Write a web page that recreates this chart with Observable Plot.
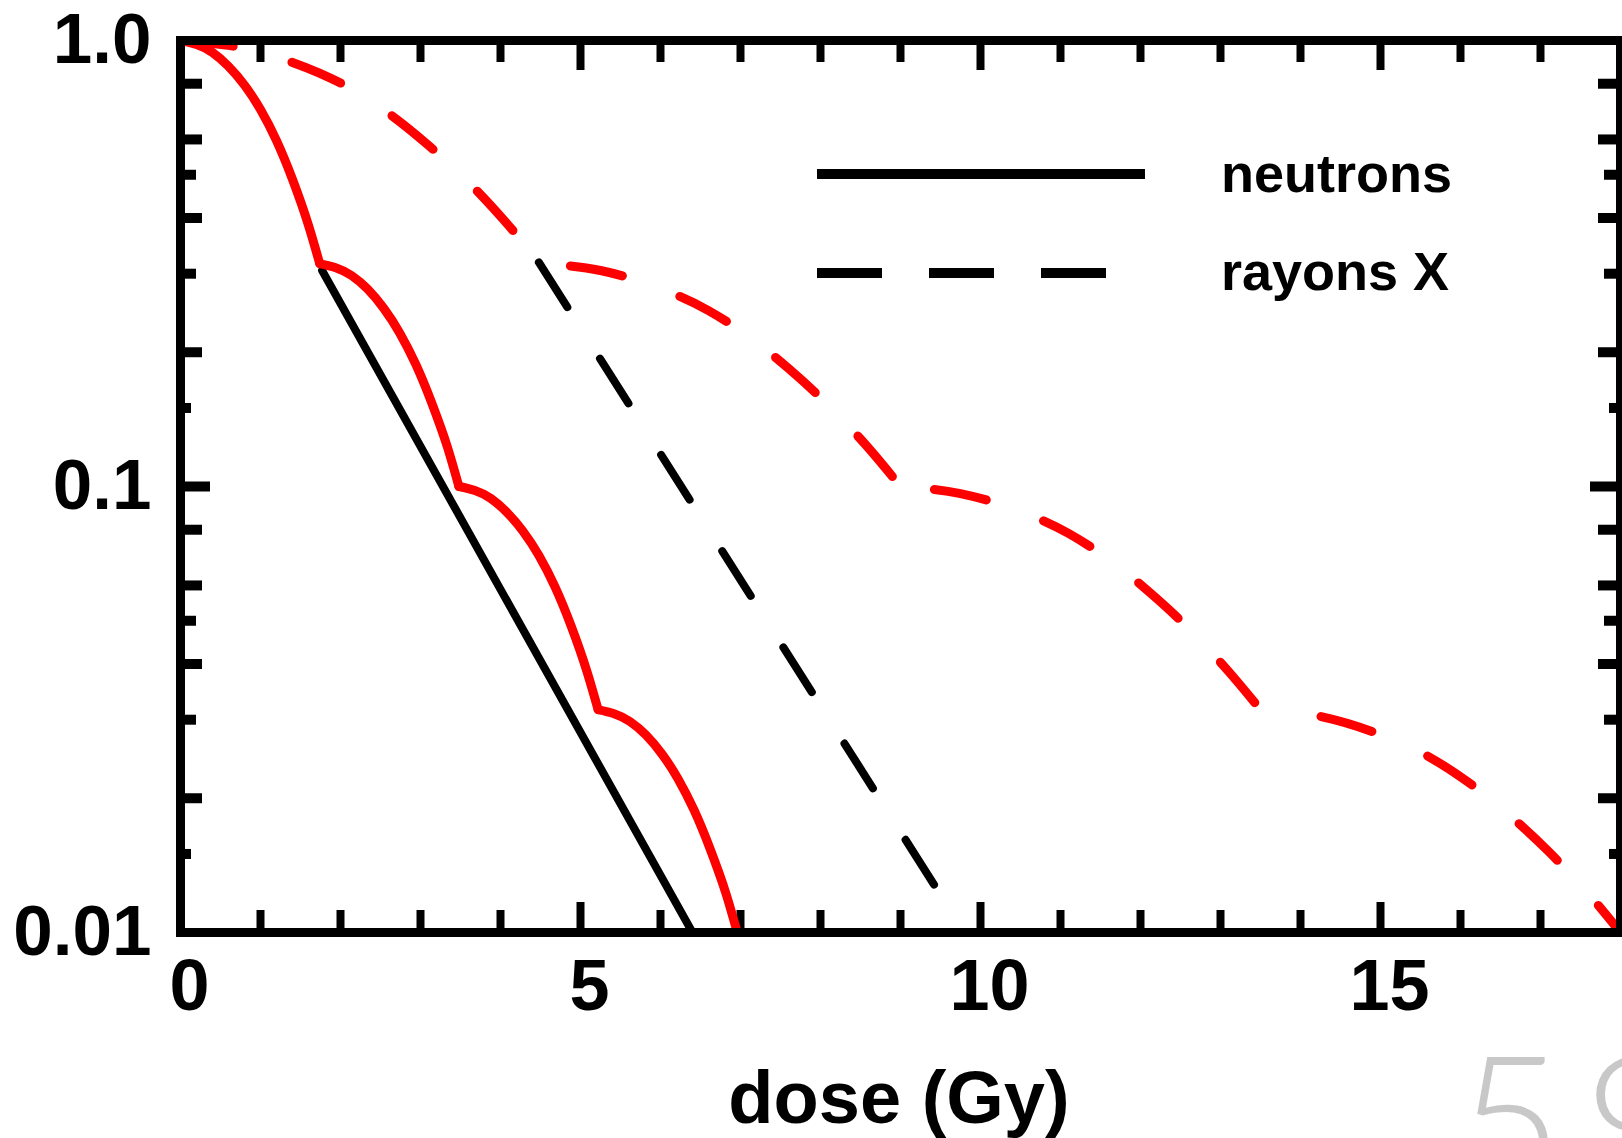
<!DOCTYPE html>
<html>
<head>
<meta charset="utf-8">
<script src="https://cdn.jsdelivr.net/npm/d3@7"></script>
<script src="https://cdn.jsdelivr.net/npm/@observablehq/plot@0.6"></script>
<style>
html, body { margin: 0; padding: 0; background: #fff; overflow: hidden; width: 1622px; height: 1138px; }
#chart { width: 1622px; height: 1138px; }
</style>
</head>
<body>
<div id="chart"></div>
<script>
// ---------- data ----------
// neutrons, fractionated (red solid): one piece per fraction
const neutronFracPiece = [
  1, 1, 1, 1, 1, 1, 1, 1, 1,
  2, 2, 2, 2, 2, 2, 2, 2, 2,
  3, 3, 3, 3, 3, 3, 3, 3, 3,
  4, 4, 4, 4, 4, 4, 4, 4, 4];
const neutronFracDose = [
  0, 0.40, 0.60, 0.80, 1.00, 1.20, 1.40, 1.60, 1.74,
  1.74, 2.14, 2.34, 2.54, 2.74, 2.94, 3.14, 3.34, 3.48,
  3.48, 3.88, 4.08, 4.28, 4.48, 4.68, 4.88, 5.08, 5.22,
  5.22, 5.62, 5.82, 6.02, 6.22, 6.42, 6.62, 6.82, 6.96];
const neutronFracSurv = [
  1, 0.940, 0.875, 0.794, 0.700, 0.596, 0.488, 0.385, 0.316,
  0.316, 0.297, 0.277, 0.251, 0.221, 0.188, 0.154, 0.122, 0.100,
  0.100, 0.0940, 0.0875, 0.0794, 0.0700, 0.0596, 0.0488, 0.0385, 0.0316,
  0.0316, 0.0297, 0.0277, 0.0251, 0.0221, 0.0188, 0.0154, 0.0122, 0.0100];
// neutrons, effective line (black solid)
const neutronLineDose = [1.77, 6.40];
const neutronLineSurv = [0.305, 0.01];
// X-rays, fractionated (red dashed): one piece per fraction
const xrayFracPiece = [
  1, 1, 1, 1, 1, 1, 1, 1, 1,
  2, 2, 2, 2, 2, 2, 2, 2, 2,
  3, 3, 3, 3, 3, 3, 3, 3, 3,
  4, 4, 4, 4, 4, 4, 4, 4, 4];
const xrayFracDose = [
  0, 0.75, 1.4, 2.1, 2.6, 3.1, 3.6, 4.1, 4.5,
  4.5, 5.25, 5.9, 6.6, 7.1, 7.6, 8.1, 8.6, 9.0,
  9.0, 9.75, 10.4, 11.1, 11.6, 12.1, 12.6, 13.1, 13.5,
  13.5, 14.25, 14.9, 15.6, 16.1, 16.6, 17.1, 17.6, 18.0];
const xrayFracSurv = [
  1, 0.964, 0.893, 0.785, 0.687, 0.582, 0.481, 0.385, 0.316,
  0.316, 0.305, 0.282, 0.248, 0.217, 0.184, 0.152, 0.122, 0.100,
  0.100, 0.0964, 0.0893, 0.0785, 0.0687, 0.0582, 0.0481, 0.0385, 0.0316,
  0.0316, 0.0305, 0.0282, 0.0248, 0.0217, 0.0184, 0.0152, 0.0122, 0.0100];
// X-rays, effective line (black dashed)
const xrayLineDose = [4.48, 9.8];
const xrayLineSurv = [0.318, 0.01];

// axes
const xTickValues = [0, 5, 10, 15];
const xTickLabels = ["0", "5", "10", "15"];
const xMinorTicks = [1, 2, 3, 4, 6, 7, 8, 9, 11, 12, 13, 14, 16, 17];
const xMajorTicks = [5, 10, 15];
const yTickValues = [0.01, 0.1, 1];
const yTickLabels = ["0.01", "0.1", "1.0"];
const yLongTicks = [0.8, 0.6, 0.4, 0.2, 0.08, 0.06, 0.04, 0.02];
const yShortTicks = [0.5, 0.3, 0.05, 0.03];
const yTinyTicks = [0.15, 0.015];
const yMajorTicks = [0.1];

const legendLabels = ["neutrons", "rayons X"];
const xAxisTitle = "dose (Gy)";
const pageNumber = "59";

// ---------- build ----------
const toRows = (xs, ys, zs) => xs.map((x, i) => ({x, y: ys[i], z: zs ? zs[i] : 0}));
const W = 1622, H = 1138;
const mL = 180, mR = 2, mT = 40, mB = 206;
const pw = W - mL - mR, ph = H - mT - mB;
const font = "'Liberation Sans', Arial, Helvetica, sans-serif";

const xTicksBottom = (vals, L) => Plot.ruleX(vals, {x: d => d, stroke: "#000", strokeWidth: 8, insetTop: ph - L});
const xTicksTop = (vals, L) => Plot.ruleX(vals, {x: d => d, stroke: "#000", strokeWidth: 8, insetBottom: ph - L});
const yTicksLeft = (vals, L) => Plot.ruleY(vals, {y: d => d, stroke: "#000", strokeWidth: 10, insetRight: pw - L});
const yTicksRight = (vals, L) => Plot.ruleY(vals, {y: d => d, stroke: "#000", strokeWidth: 10, insetLeft: pw - L});

const neutronRows = toRows(neutronFracDose, neutronFracSurv, neutronFracPiece);
const xrayRows = toRows(xrayFracDose, xrayFracSurv, xrayFracPiece);
const dash = "53,61";
const xrayPieceMarks = [[1, 0], [2, 84], [3, 80], [4, 53]].map(([p, off]) =>
  Plot.line(xrayRows.filter(r => r.z === p), {x: "x", y: "y", stroke: "#ff0000", strokeWidth: 9,
    curve: "monotone-x", strokeDasharray: dash, strokeDashoffset: off, strokeLinecap: "round", clip: true}));

const chart = Plot.plot({
  width: W, height: H,
  marginLeft: mL, marginRight: mR, marginTop: mT, marginBottom: mB,
  style: {fontFamily: font, background: "#fff", color: "#000", overflow: "hidden"},
  x: {domain: [0, 18]},
  y: {type: "log", domain: [0.01, 1]},
  marks: [
    xTicksBottom(xMinorTicks, 22), xTicksBottom(xMajorTicks, 30),
    xTicksTop(xMinorTicks, 22), xTicksTop(xMajorTicks, 30),
    yTicksLeft(yLongTicks, 22), yTicksLeft(yShortTicks, 16), yTicksLeft(yTinyTicks, 11), yTicksLeft(yMajorTicks, 30),
    yTicksRight(yLongTicks, 22), yTicksRight(yShortTicks, 16), yTicksRight(yTinyTicks, 11), yTicksRight(yMajorTicks, 30),
    Plot.axisX(xTickValues, {anchor: "bottom", tickSize: 0, tickPadding: 26, dx: 9, fontSize: 72, fontWeight: "bold",
      tickFormat: d => xTickLabels[xTickValues.indexOf(d)], label: null}),
    Plot.axisY(yTickValues, {anchor: "left", tickSize: 0, tickPadding: 29, fontSize: 71, fontWeight: "bold",
      tickFormat: d => yTickLabels[yTickValues.indexOf(d)], label: null}),
    Plot.line(toRows(neutronLineDose, neutronLineSurv), {x: "x", y: "y", stroke: "#000", strokeWidth: 8, clip: true}),
    Plot.line(toRows(xrayLineDose, xrayLineSurv), {x: "x", y: "y", stroke: "#000", strokeWidth: 8, strokeDasharray: dash, strokeLinecap: "round", clip: true}),
    Plot.line(neutronRows, {x: "x", y: "y", z: "z", stroke: "#ff0000", strokeWidth: 9, curve: "monotone-x", strokeLinecap: "round", clip: true}),
    ...xrayPieceMarks,
    Plot.frame({stroke: "#000", strokeWidth: 9})
  ]
});

const svg = d3.select(chart);
// x axis title
svg.append("text").attr("x", 899).attr("y", 1123).attr("text-anchor", "middle")
  .attr("font-family", font).attr("font-weight", "bold").attr("font-size", 74).attr("fill", "#000")
  .text(xAxisTitle);
// legend
const lg = svg.append("g");
lg.append("line").attr("x1", 817).attr("x2", 1145).attr("y1", 174).attr("y2", 174)
  .attr("stroke", "#000").attr("stroke-width", 10);
lg.append("line").attr("x1", 817).attr("x2", 1112).attr("y1", 273).attr("y2", 273)
  .attr("stroke", "#000").attr("stroke-width", 10).attr("stroke-dasharray", "65,47");
lg.selectAll("text.lab").data(legendLabels).join("text").attr("class", "lab")
  .attr("x", 1221).attr("y", (d, i) => i === 0 ? 192 : 290).attr("text-anchor", "start")
  .attr("font-family", font).attr("font-weight", "bold").attr("font-size", 54).attr("fill", "#000")
  .text(d => d);
// slide page number (partly cut off by the page edge)
svg.append("text").attr("x", 1458).attr("y", 1185).attr("text-anchor", "start")
  .attr("font-family", "Lato, 'Open Sans', sans-serif").attr("font-weight", 300).attr("font-size", 180)
  .attr("letter-spacing", 22).attr("fill", "#c8c8c8").text(pageNumber);

document.getElementById("chart").appendChild(chart);
</script>
</body>
</html>
